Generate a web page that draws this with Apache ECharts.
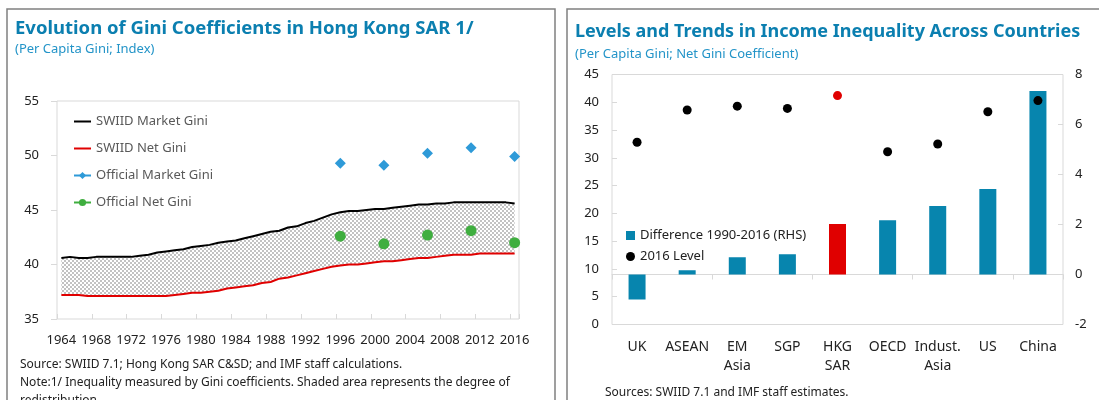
<!DOCTYPE html>
<html>
<head>
<meta charset="utf-8">
<script src="https://cdn.jsdelivr.net/npm/echarts@6/dist/echarts.min.js"></script>
<style>
  html, body { margin: 0; padding: 0; background: #fff; }
  #chart { width: 1099px; height: 400px; }
</style>
</head>
<body>
<div id="chart"></div>
<script>
// left chart: yearly Gini, 1964-2016
var years = ['1964', '1965', '1966', '1967', '1968', '1969', '1970', '1971', '1972', '1973',
  '1974', '1975', '1976', '1977', '1978', '1979', '1980', '1981', '1982', '1983',
  '1984', '1985', '1986', '1987', '1988', '1989', '1990', '1991', '1992', '1993',
  '1994', '1995', '1996', '1997', '1998', '1999', '2000', '2001', '2002', '2003',
  '2004', '2005', '2006', '2007', '2008', '2009', '2010', '2011', '2012', '2013',
  '2014', '2015', '2016']
var swiidMarket = [40.6, 40.7, 40.6, 40.6, 40.7, 40.7, 40.7, 40.7, 40.7, 40.8,
  40.9, 41.1, 41.2, 41.3, 41.4, 41.6, 41.7, 41.8, 42.0, 42.1,
  42.2, 42.4, 42.6, 42.8, 43.0, 43.1, 43.4, 43.5, 43.8, 44.0,
  44.3, 44.6, 44.8, 44.9, 44.9, 45.0, 45.1, 45.1, 45.2, 45.3,
  45.4, 45.5, 45.5, 45.6, 45.6, 45.7, 45.7, 45.7, 45.7, 45.7,
  45.7, 45.7, 45.6]
var swiidNet = [37.2, 37.2, 37.2, 37.1, 37.1, 37.1, 37.1, 37.1, 37.1, 37.1,
  37.1, 37.1, 37.1, 37.2, 37.3, 37.4, 37.4, 37.5, 37.6, 37.8,
  37.9, 38.0, 38.1, 38.3, 38.4, 38.7, 38.8, 39.0, 39.2, 39.4,
  39.6, 39.8, 39.9, 40.0, 40.0, 40.1, 40.2, 40.3, 40.3, 40.4,
  40.5, 40.6, 40.6, 40.7, 40.8, 40.9, 40.9, 40.9, 41.0, 41.0,
  41.0, 41.0, 41.0]
var officialYears = ['1996', '2001', '2006', '2011', '2016']
var officialMarket = [49.3, 49.1, 50.2, 50.7, 49.9]
var officialNet = [42.6, 41.9, 42.7, 43.1, 42.0]

// right chart: countries
var countries = ['UK', 'ASEAN', 'EM\nAsia', 'SGP', 'HKG\nSAR', 'OECD', 'Indust.\nAsia', 'US', 'China']
var diff19902016 = [-1.0, 0.17, 0.69, 0.81, 2.02, 2.17, 2.74, 3.42, 7.34]
var level2016 = [32.8, 38.6, 39.3, 38.9, 41.2, 31.1, 32.5, 38.3, 40.3]
var highlight = 'HKG\nSAR'

var FONT = 'Noto Sans'
var TITLE_BLUE = '#0b7fb0'
var SUB_BLUE = '#2394c8'
var BAR_BLUE = '#0785ae'
var RED = '#e00000'
var TEXT = '#222222'

// dotted fill for the redistribution band
function hatch() {
  var c = document.createElement('canvas')
  c.width = 4
  c.height = 4
  var ctx = c.getContext('2d')
  ctx.fillStyle = '#ffffff'
  ctx.fillRect(0, 0, 4, 4)
  ctx.fillStyle = '#c2c2c2'
  ctx.fillRect(0, 0, 2, 2)
  ctx.fillRect(2, 2, 2, 2)
  return c
}

function onYears(keys, vals) {
  return years.map(function (y) {
    var i = keys.indexOf(y)
    return i >= 0 ? vals[i] : null
  })
}

var band = swiidMarket.map(function (v, i) { return +(v - swiidNet[i]).toFixed(2) })

var chart = echarts.init(document.getElementById('chart'), null, { renderer: 'canvas' })

chart.setOption({
  animation: false,
  textStyle: { fontFamily: FONT },
  graphic: [
    { type: 'rect', shape: { x: 7, y: 9, width: 548, height: 420 }, style: { fill: 'none', stroke: '#808080', lineWidth: 1.5 }, silent: true },
    { type: 'rect', shape: { x: 567, y: 9, width: 560, height: 420 }, style: { fill: 'none', stroke: '#808080', lineWidth: 1.5 }, silent: true }
  ],
  title: [
    { text: 'Evolution of Gini Coefficients in Hong Kong SAR 1/', left: 10, top: 14,
      textStyle: { color: TITLE_BLUE, fontSize: 18.5, fontWeight: 'bold', fontFamily: FONT } },
    { text: '(Per Capita Gini; Index)', left: 10, top: 38,
      textStyle: { color: SUB_BLUE, fontSize: 13, fontWeight: 'normal', fontFamily: FONT } },
    { text: 'Levels and Trends in Income Inequality Across Countries', left: 570, top: 18,
      textStyle: { color: TITLE_BLUE, fontSize: 18, fontWeight: 'bold', fontFamily: FONT } },
    { text: '(Per Capita Gini; Net Gini Coefficient)', left: 570, top: 43,
      textStyle: { color: SUB_BLUE, fontSize: 13, fontWeight: 'normal', fontFamily: FONT } },
    { text: 'Source: SWIID 7.1; Hong Kong SAR C&SD; and IMF staff calculations.\nNote:1/ Inequality measured by Gini coefficients. Shaded area represents the degree of\nredistribution.',
      left: 15, top: 351,
      textStyle: { color: TEXT, fontSize: 12, fontWeight: 'normal', lineHeight: 18, fontFamily: FONT } },
    { text: 'Sources: SWIID 7.1 and IMF staff estimates.', left: 600, top: 382,
      textStyle: { color: TEXT, fontSize: 12, fontWeight: 'normal', fontFamily: FONT } }
  ],
  legend: [
    {
      orient: 'vertical', left: 68, top: 110, itemWidth: 17, itemHeight: 9, itemGap: 14,
      textStyle: { color: '#595959', fontSize: 13, fontFamily: FONT },
      data: [
        { name: 'SWIID Market Gini', itemStyle: { opacity: 0 } },
        { name: 'SWIID Net Gini', itemStyle: { opacity: 0 } },
        'Official Market Gini',
        'Official Net Gini'
      ]
    },
    {
      orient: 'vertical', left: 621, top: 224, itemWidth: 9, itemHeight: 9, itemGap: 8,
      textStyle: { color: TEXT, fontSize: 13, fontFamily: FONT },
      data: [
        { name: 'Difference 1990-2016 (RHS)', icon: 'rect' },
        { name: '2016 Level', icon: 'circle' }
      ]
    }
  ],
  grid: [
    { left: 57, right: 580, top: 101, bottom: 81, show: true, borderColor: '#d9d9d9', borderWidth: 1 },
    { left: 612, right: 36, top: 74.5, bottom: 75.5, show: true, borderColor: '#d9d9d9', borderWidth: 1 }
  ],
  xAxis: [
    {
      gridIndex: 0, type: 'category', data: years, boundaryGap: true,
      axisLine: { show: false },
      axisTick: { show: true, inside: true, length: 5, interval: 3, lineStyle: { color: '#d9d9d9' } },
      axisLabel: { interval: 3, color: TEXT, fontSize: 13, margin: 15, fontFamily: FONT }
    },
    {
      gridIndex: 1, type: 'category', data: countries,
      axisLine: { show: false, onZero: false },
      axisTick: { show: false },
      axisLabel: { interval: 0, color: TEXT, fontSize: 14, lineHeight: 19, margin: 13, fontFamily: FONT }
    },
    {
      // zero line of the RHS axis, ticks only
      gridIndex: 1, type: 'category', data: countries,
      axisLine: { show: true, onZero: true, onZeroAxisIndex: 2, lineStyle: { color: '#d9d9d9' } },
      axisTick: { show: true, inside: true, length: 5, lineStyle: { color: '#d9d9d9' } },
      axisLabel: { show: false }
    }
  ],
  yAxis: [
    {
      gridIndex: 0, type: 'value', min: 35, max: 55, interval: 5,
      axisLine: { show: false },
      axisTick: { show: true, length: 6, lineStyle: { color: '#d9d9d9' } },
      splitLine: { show: false },
      axisLabel: { color: TEXT, fontSize: 13, margin: 18, fontFamily: FONT }
    },
    {
      gridIndex: 1, type: 'value', min: 0, max: 45, interval: 5,
      axisLine: { show: false },
      axisTick: { show: true, inside: true, length: 5, lineStyle: { color: '#d9d9d9' } },
      splitLine: { show: false },
      axisLabel: { color: TEXT, fontSize: 13, margin: 13, fontFamily: FONT }
    },
    {
      gridIndex: 1, type: 'value', position: 'right', min: -2, max: 8, interval: 2,
      axisLine: { show: false },
      axisTick: { show: true, inside: true, length: 5, lineStyle: { color: '#d9d9d9' } },
      splitLine: { show: false },
      axisLabel: { color: TEXT, fontSize: 13, margin: 12, fontFamily: FONT }
    }
  ],
  series: [
    {
      name: 'base', type: 'line', xAxisIndex: 0, yAxisIndex: 0, stack: 'band',
      data: swiidNet, symbol: 'none', silent: true, lineStyle: { opacity: 0 }, z: 1
    },
    {
      name: 'band', type: 'line', xAxisIndex: 0, yAxisIndex: 0, stack: 'band',
      data: band, symbol: 'none', silent: true, lineStyle: { opacity: 0 },
      areaStyle: { color: { image: hatch(), repeat: 'repeat' }, opacity: 1 }, z: 1
    },
    {
      name: 'SWIID Market Gini', type: 'line', xAxisIndex: 0, yAxisIndex: 0,
      data: swiidMarket, symbol: 'none', color: '#000000', lineStyle: { width: 2, color: '#000000' }, z: 3
    },
    {
      name: 'SWIID Net Gini', type: 'line', xAxisIndex: 0, yAxisIndex: 0,
      data: swiidNet, symbol: 'none', color: RED, lineStyle: { width: 2, color: RED }, z: 3
    },
    {
      name: 'Official Market Gini', type: 'line', xAxisIndex: 0, yAxisIndex: 0,
      data: onYears(officialYears, officialMarket), connectNulls: false,
      showSymbol: true, showAllSymbol: true, symbol: 'diamond', symbolSize: 11,
      color: '#2e9ad8', itemStyle: { color: '#2e9ad8' }, lineStyle: { width: 2, color: '#2e9ad8' }, z: 4
    },
    {
      name: 'Official Net Gini', type: 'line', xAxisIndex: 0, yAxisIndex: 0,
      data: onYears(officialYears, officialNet), connectNulls: false,
      showSymbol: true, showAllSymbol: true, symbol: 'circle', symbolSize: 11,
      color: '#3fae3f', itemStyle: { color: '#3fae3f' }, lineStyle: { width: 2, color: '#3fae3f' }, z: 4
    },
    {
      name: 'Difference 1990-2016 (RHS)', type: 'bar', xAxisIndex: 1, yAxisIndex: 2,
      barWidth: 17, color: BAR_BLUE,
      data: diff19902016.map(function (v, i) {
        return { value: v, itemStyle: { color: countries[i] === highlight ? RED : BAR_BLUE } }
      })
    },
    {
      name: '2016 Level', type: 'scatter', xAxisIndex: 1, yAxisIndex: 1,
      symbolSize: 9, color: '#000000', itemStyle: { opacity: 1 }, z: 4,
      data: level2016.map(function (v, i) {
        return { value: v, itemStyle: { color: countries[i] === highlight ? RED : '#000000', opacity: 1 } }
      })
    }
  ]
})
</script>
</body>
</html>
